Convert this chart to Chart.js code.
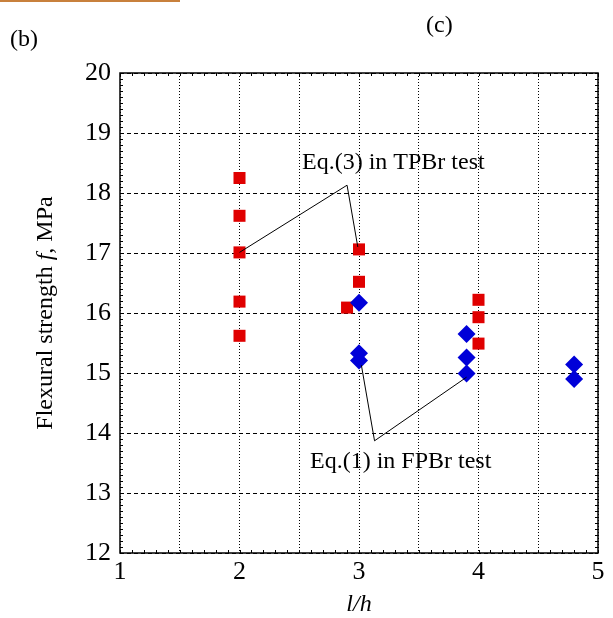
<!DOCTYPE html>
<html>
<head>
<meta charset="utf-8">
<script src="https://cdn.jsdelivr.net/npm/chart.js@4/dist/chart.umd.min.js"></script>
<style>
  html, body { margin: 0; padding: 0; background: #fff; }
  #wrap { position: relative; width: 613px; height: 618px; }
  #topbar { position: absolute; left: 0; top: 0; width: 180px; height: 2px; background: #c8803c; }
</style>
</head>
<body>
<div id="wrap">
  <div id="topbar"></div>
  <canvas id="myChart" width="613" height="618"></canvas>
</div>
<script>
  // l/h and strength values
  const tpbrX = [2, 2, 2, 2, 2, 3, 3, 2.9, 4, 4, 4];
  const tpbrY = [18.25, 17.62, 17.01, 16.19, 15.62, 17.06, 16.52, 16.09, 16.22, 15.93, 15.49];
  const fpbrX = [3, 3, 3, 3.9, 3.9, 3.9, 4.8, 4.8];
  const fpbrY = [16.17, 15.33, 15.21, 15.65, 15.26, 14.99, 15.14, 14.9];

  // leader lines of the two labels
  const eq3LineX = [2, 2.9, 2.99];
  const eq3LineY = [17.01, 18.13, 17.1];
  const eq1LineX = [3.02, 3.13, 3.9];
  const eq1LineY = [15.13, 13.87, 14.93];

  const xTicks = [1, 2, 3, 4, 5];
  const yTicks = [12, 13, 14, 15, 16, 17, 18, 19, 20];

  const serif = '"Liberation Serif", "Times New Roman", serif';

  const toPoints = (xs, ys) => xs.map((x, i) => ({ x: x, y: ys[i] }));

  // frame, minor ticks and all the extra text
  const decorPlugin = {
    id: 'decor',
    afterDraw(chart) {
      const ctx = chart.ctx;
      const a = chart.chartArea;
      const xs = chart.scales.x, ys = chart.scales.y;
      ctx.save();
      ctx.strokeStyle = '#000';
      ctx.lineWidth = 1;
      // minor ticks
      ctx.beginPath();
      for (let v = 12; v <= 20.001; v += 0.1) {
        const py = Math.round(ys.getPixelForValue(v)) + 0.5;
        ctx.moveTo(a.left, py); ctx.lineTo(a.left + 3, py);
        ctx.moveTo(a.right, py); ctx.lineTo(a.right - 3, py);
      }
      for (let v = 1; v <= 5.001; v += 0.1) {
        const px = Math.round(xs.getPixelForValue(v)) + 0.5;
        ctx.moveTo(px, a.top); ctx.lineTo(px, a.top + 3);
        ctx.moveTo(px, a.bottom); ctx.lineTo(px, a.bottom - 3);
      }
      ctx.stroke();
      // frame
      ctx.lineWidth = 1.5;
      ctx.strokeRect(a.left, a.top, a.right - a.left, a.bottom - a.top);

      ctx.fillStyle = '#000';
      ctx.textBaseline = 'middle';
      ctx.textAlign = 'left';
      ctx.font = '24px ' + serif;
      ctx.fillText('Eq.(3) in TPBr test', xs.getPixelForValue(2.523), ys.getPixelForValue(18.5));
      ctx.fillText('Eq.(1) in FPBr test', xs.getPixelForValue(2.59), ys.getPixelForValue(13.52));
      ctx.fillText('(b)', 10, 40);
      ctx.fillText('(c)', 426, 26);

      // x title: l/h in italics
      ctx.textAlign = 'center';
      ctx.font = 'italic 24px ' + serif;
      ctx.fillText('l/h', (a.left + a.right) / 2, 605);

      // y title, rotated, with italic f
      const parts = [['Flexural strength ', ''], ['f', 'italic '], [', MPa', '']];
      let total = 0;
      parts.forEach(p => { ctx.font = p[1] + '24px ' + serif; total += ctx.measureText(p[0]).width; });
      ctx.translate(46, (a.top + a.bottom) / 2);
      ctx.rotate(-Math.PI / 2);
      ctx.textAlign = 'left';
      let cx = -total / 2;
      parts.forEach(p => {
        ctx.font = p[1] + '24px ' + serif;
        ctx.fillText(p[0], cx, 0);
        cx += ctx.measureText(p[0]).width;
      });
      ctx.restore();
    }
  };

  const ctx = document.getElementById('myChart').getContext('2d');
  new Chart(ctx, {
    type: 'scatter',
    data: {
      datasets: [
        {
          label: 'Eq.(3)',
          data: toPoints(eq3LineX, eq3LineY),
          showLine: true,
          borderColor: '#000',
          borderWidth: 1,
          pointRadius: 0,
          order: 0
        },
        {
          label: 'Eq.(1)',
          data: toPoints(eq1LineX, eq1LineY),
          showLine: true,
          borderColor: '#000',
          borderWidth: 1,
          pointRadius: 0,
          order: 0
        },
        {
          label: 'FPBr',
          data: toPoints(fpbrX, fpbrY),
          pointStyle: 'rectRot',
          pointRadius: 9,
          backgroundColor: '#0000d8',
          borderColor: '#0000d8',
          borderWidth: 0,
          order: 1
        },
        {
          label: 'TPBr',
          data: toPoints(tpbrX, tpbrY),
          pointStyle: 'rect',
          pointRadius: 8.5,
          backgroundColor: '#e00000',
          borderColor: '#e00000',
          borderWidth: 0,
          order: 2
        }
      ]
    },
    options: {
      responsive: false,
      animation: false,
      layout: { padding: { left: 0, right: 15, top: 73, bottom: 0 } },
      scales: {
        x: {
          type: 'linear',
          min: 1,
          max: 5,
          afterFit: (s) => { s.height = 65; },
          afterBuildTicks: (s) => {
            const t = [];
            for (let v = 1; v <= 5; v += 0.5) t.push({ value: v });
            s.ticks = t;
          },
          grid: { color: '#000', lineWidth: 1, drawTicks: false, tickLength: 0 },
          border: { display: false, dash: [1, 2] },
          ticks: {
            padding: 4,
            color: '#000',
            font: { family: serif, size: 26 },
            callback: (v) => xTicks.includes(v) ? String(v) : ''
          }
        },
        y: {
          type: 'linear',
          min: 12,
          max: 20,
          afterFit: (s) => { s.width = 120; },
          afterBuildTicks: (s) => { s.ticks = yTicks.map(v => ({ value: v })); },
          grid: { color: '#000', lineWidth: 1, drawTicks: false, tickLength: 0 },
          border: { display: false, dash: [4, 3] },
          ticks: {
            padding: 9,
            color: '#000',
            font: { family: serif, size: 26 }
          }
        }
      },
      plugins: {
        legend: { display: false },
        tooltip: { enabled: false }
      }
    },
    plugins: [decorPlugin]
  });
</script>
</body>
</html>
